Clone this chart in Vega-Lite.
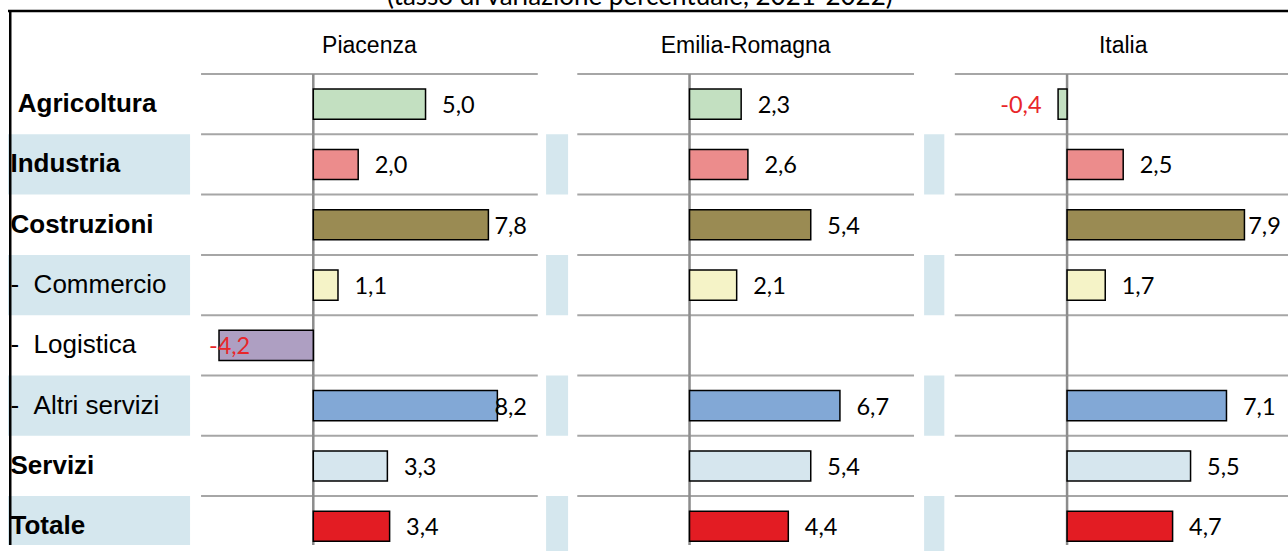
{
  "$schema": "https://vega.github.io/schema/vega-lite/v6.json",
  "width": 1288,
  "height": 551,
  "autosize": {"type": "fit", "contains": "padding"},
  "padding": {"left": 8, "top": 0, "right": 0, "bottom": 0},
  "background": "white",
  "config": {
    "view": {"stroke": null},
    "locale": {"number": {"decimal": ",", "thousands": ".", "grouping": [3], "currency": ["", " €"], "minus": "-"}}
  },
  "datasets": {
    "vals": [
      {"area": "Piacenza", "sector": "Agricoltura", "value": 5.0},
      {"area": "Piacenza", "sector": "Industria", "value": 2.0},
      {"area": "Piacenza", "sector": "Costruzioni", "value": 7.8},
      {"area": "Piacenza", "sector": "Commercio", "value": 1.1},
      {"area": "Piacenza", "sector": "Logistica", "value": -4.2},
      {"area": "Piacenza", "sector": "Altri servizi", "value": 8.2},
      {"area": "Piacenza", "sector": "Servizi", "value": 3.3},
      {"area": "Piacenza", "sector": "Totale", "value": 3.4},
      {"area": "Emilia-Romagna", "sector": "Agricoltura", "value": 2.3},
      {"area": "Emilia-Romagna", "sector": "Industria", "value": 2.6},
      {"area": "Emilia-Romagna", "sector": "Costruzioni", "value": 5.4},
      {"area": "Emilia-Romagna", "sector": "Commercio", "value": 2.1},
      {"area": "Emilia-Romagna", "sector": "Logistica", "value": null},
      {"area": "Emilia-Romagna", "sector": "Altri servizi", "value": 6.7},
      {"area": "Emilia-Romagna", "sector": "Servizi", "value": 5.4},
      {"area": "Emilia-Romagna", "sector": "Totale", "value": 4.4},
      {"area": "Italia", "sector": "Agricoltura", "value": -0.4},
      {"area": "Italia", "sector": "Industria", "value": 2.5},
      {"area": "Italia", "sector": "Costruzioni", "value": 7.9},
      {"area": "Italia", "sector": "Commercio", "value": 1.7},
      {"area": "Italia", "sector": "Logistica", "value": null},
      {"area": "Italia", "sector": "Altri servizi", "value": 7.1},
      {"area": "Italia", "sector": "Servizi", "value": 5.5},
      {"area": "Italia", "sector": "Totale", "value": 4.7}
    ]
  },
  "data": {"name": "vals"},
  "layer": [
    {
      "transform": [{"filter": "datum.area == 'Piacenza'"}],
      "layer": [
        {
          "transform": [{"filter": "indexof(['Industria','Commercio','Altri servizi','Totale'], datum.sector) >= 0"}],
          "mark": {"type": "rect", "fill": "#d5e7ee", "clip": true},
          "encoding": {
            "x": {"datum": -13.6, "type": "quantitative", "scale": {"domain": [-13.6, 43.42], "nice": false, "zero": false}, "axis": null},
            "x2": {"datum": -5.49},
            "y": {"field": "sector", "type": "nominal", "scale": {"domain": ["header","Agricoltura","Industria","Costruzioni","Commercio","Logistica","Altri servizi","Servizi","Totale"], "range": [13.7, 556.4], "paddingInner": 0, "paddingOuter": 0},
              "axis": {"domain": false, "ticks": false, "tickSize": 0, "title": null, "labelAlign": "left", "labelPadding": -2, "labelFont": "Liberation Sans", "labelFontSize": 26, "labelColor": "black", "labelLimit": 400, "labelFontWeight": {"expr": "indexof(['Commercio','Logistica','Altri servizi'], datum.value) >= 0 ? 'normal' : 'bold'"}, "labelExpr": "datum.value == 'header' ? '' : indexof(['Commercio','Logistica','Altri servizi'], datum.value) >= 0 ? '-\u00a0\u00a0' + datum.value : datum.value == 'Agricoltura' ? '\u200b\u00a0' + datum.value : datum.value"}}
          }
        },
        {
          "transform": [{"filter": "indexof(['Industria','Commercio','Altri servizi','Totale'], datum.sector) >= 0"}],
          "mark": {"type": "rect", "fill": "#d5e7ee"},
          "encoding": {
            "x": {"datum": 10.37, "type": "quantitative", "axis": null},
            "x2": {"datum": 11.35},
            "y": {"field": "sector", "type": "nominal", "scale": {"domain": ["header","Agricoltura","Industria","Costruzioni","Commercio","Logistica","Altri servizi","Servizi","Totale"], "range": [13.7, 556.4], "paddingInner": 0, "paddingOuter": 0},
              "axis": {"domain": false, "ticks": false, "tickSize": 0, "title": null, "labelAlign": "left", "labelPadding": -2, "labelFont": "Liberation Sans", "labelFontSize": 26, "labelColor": "black", "labelLimit": 400, "labelFontWeight": {"expr": "indexof(['Commercio','Logistica','Altri servizi'], datum.value) >= 0 ? 'normal' : 'bold'"}, "labelExpr": "datum.value == 'header' ? '' : indexof(['Commercio','Logistica','Altri servizi'], datum.value) >= 0 ? '-\u00a0\u00a0' + datum.value : datum.value == 'Agricoltura' ? '\u200b\u00a0' + datum.value : datum.value"}}
          }
        },
        {
          "mark": {"type": "rule", "stroke": "#a6a6a6", "strokeWidth": 2},
          "encoding": {
            "x": {"datum": -5, "type": "quantitative", "axis": null},
            "x2": {"datum": 10},
            "y": {"field": "sector", "type": "nominal", "bandPosition": 0, "scale": {"domain": ["header","Agricoltura","Industria","Costruzioni","Commercio","Logistica","Altri servizi","Servizi","Totale"], "range": [13.7, 556.4], "paddingInner": 0, "paddingOuter": 0},
              "axis": {"domain": false, "ticks": false, "tickSize": 0, "title": null, "labelAlign": "left", "labelPadding": -2, "labelFont": "Liberation Sans", "labelFontSize": 26, "labelColor": "black", "labelLimit": 400, "labelFontWeight": {"expr": "indexof(['Commercio','Logistica','Altri servizi'], datum.value) >= 0 ? 'normal' : 'bold'"}, "labelExpr": "datum.value == 'header' ? '' : indexof(['Commercio','Logistica','Altri servizi'], datum.value) >= 0 ? '-\u00a0\u00a0' + datum.value : datum.value == 'Agricoltura' ? '\u200b\u00a0' + datum.value : datum.value"}}
          }
        },
        {
          "mark": {"type": "rect", "fillOpacity": 0, "stroke": "#8c8c8c", "strokeWidth": 2.5, "clip": true},
          "encoding": {
            "x": {"datum": 0, "type": "quantitative", "axis": null},
            "x2": {"datum": 0},
            "y": {"field": "sector", "type": "nominal", "scale": {"domain": ["header","Agricoltura","Industria","Costruzioni","Commercio","Logistica","Altri servizi","Servizi","Totale"], "range": [13.7, 556.4], "paddingInner": 0, "paddingOuter": 0},
              "axis": {"domain": false, "ticks": false, "tickSize": 0, "title": null, "labelAlign": "left", "labelPadding": -2, "labelFont": "Liberation Sans", "labelFontSize": 26, "labelColor": "black", "labelLimit": 400, "labelFontWeight": {"expr": "indexof(['Commercio','Logistica','Altri servizi'], datum.value) >= 0 ? 'normal' : 'bold'"}, "labelExpr": "datum.value == 'header' ? '' : indexof(['Commercio','Logistica','Altri servizi'], datum.value) >= 0 ? '-\u00a0\u00a0' + datum.value : datum.value == 'Agricoltura' ? '\u200b\u00a0' + datum.value : datum.value"}}
          }
        },
        {
          "mark": {"type": "bar", "stroke": "black", "strokeWidth": 1.5, "height": {"band": 0.5}},
          "encoding": {
            "x": {"field": "value", "type": "quantitative", "axis": null},
            "y": {"field": "sector", "type": "nominal", "scale": {"domain": ["header","Agricoltura","Industria","Costruzioni","Commercio","Logistica","Altri servizi","Servizi","Totale"], "range": [13.7, 556.4], "paddingInner": 0, "paddingOuter": 0},
              "axis": {"domain": false, "ticks": false, "tickSize": 0, "title": null, "labelAlign": "left", "labelPadding": -2, "labelFont": "Liberation Sans", "labelFontSize": 26, "labelColor": "black", "labelLimit": 400, "labelFontWeight": {"expr": "indexof(['Commercio','Logistica','Altri servizi'], datum.value) >= 0 ? 'normal' : 'bold'"}, "labelExpr": "datum.value == 'header' ? '' : indexof(['Commercio','Logistica','Altri servizi'], datum.value) >= 0 ? '-\u00a0\u00a0' + datum.value : datum.value == 'Agricoltura' ? '\u200b\u00a0' + datum.value : datum.value"}},
            "color": {"field": "sector", "type": "nominal", "legend": null, "scale": {"domain": ["Agricoltura","Industria","Costruzioni","Commercio","Logistica","Altri servizi","Servizi","Totale"], "range": ["#c3e0c1","#ec8c8c","#9a8b53","#f5f3c7","#ae9fc2","#82a8d6","#d6e6ee","#e31c23"]}}
          }
        },
        {
          "mark": {"type": "text", "font": "Lato", "fontSize": 23.5, "baseline": "alphabetic", "dy": 9,
            "align": {"expr": "datum.value < -2.15 ? 'left' : datum.value < 0 ? 'right' : datum.value > 7.4 ? 'right' : 'left'"},
            "dx": {"expr": "datum.value < -2.15 ? (-4.65 - datum.value) * 22.45 : datum.value < 0 ? -16.5 : datum.value > 7.4 ? (9.52 - datum.value) * 22.45 : 16.5"}},
          "encoding": {
            "x": {"field": "value", "type": "quantitative", "axis": null},
            "y": {"field": "sector", "type": "nominal", "scale": {"domain": ["header","Agricoltura","Industria","Costruzioni","Commercio","Logistica","Altri servizi","Servizi","Totale"], "range": [13.7, 556.4], "paddingInner": 0, "paddingOuter": 0},
              "axis": {"domain": false, "ticks": false, "tickSize": 0, "title": null, "labelAlign": "left", "labelPadding": -2, "labelFont": "Liberation Sans", "labelFontSize": 26, "labelColor": "black", "labelLimit": 400, "labelFontWeight": {"expr": "indexof(['Commercio','Logistica','Altri servizi'], datum.value) >= 0 ? 'normal' : 'bold'"}, "labelExpr": "datum.value == 'header' ? '' : indexof(['Commercio','Logistica','Altri servizi'], datum.value) >= 0 ? '-\u00a0\u00a0' + datum.value : datum.value == 'Agricoltura' ? '\u200b\u00a0' + datum.value : datum.value"}},
            "text": {"field": "value", "type": "quantitative", "format": ".1f"},
            "color": {"condition": {"test": "datum.value < 0", "value": "#e8262a"}, "value": "black"}
          }
        },
        {
          "data": {"values": [{"area": "Piacenza"}]},
          "mark": {"type": "text", "font": "Liberation Sans", "fontSize": 23, "baseline": "alphabetic", "dy": 9, "align": "center", "color": "black"},
          "encoding": {
            "x": {"datum": 2.5, "type": "quantitative", "axis": null},
            "y": {"datum": "header", "type": "nominal", "scale": {"domain": ["header","Agricoltura","Industria","Costruzioni","Commercio","Logistica","Altri servizi","Servizi","Totale"], "range": [13.7, 556.4], "paddingInner": 0, "paddingOuter": 0},
              "axis": {"domain": false, "ticks": false, "tickSize": 0, "title": null, "labelAlign": "left", "labelPadding": -2, "labelFont": "Liberation Sans", "labelFontSize": 26, "labelColor": "black", "labelLimit": 400, "labelFontWeight": {"expr": "indexof(['Commercio','Logistica','Altri servizi'], datum.value) >= 0 ? 'normal' : 'bold'"}, "labelExpr": "datum.value == 'header' ? '' : indexof(['Commercio','Logistica','Altri servizi'], datum.value) >= 0 ? '-\u00a0\u00a0' + datum.value : datum.value == 'Agricoltura' ? '\u200b\u00a0' + datum.value : datum.value"}},
            "text": {"field": "area", "type": "nominal"}
          }
        },
        {
          "data": {"values": [{"t": "(tasso di variazione percentuale, 2021-2022)"}]},
          "mark": {"type": "text", "font": "Lato", "fontSize": 26, "baseline": "alphabetic", "dy": -38.5, "align": "center", "color": "black", "clip": true},
          "encoding": {
            "x": {"datum": 14.55, "type": "quantitative", "axis": null},
            "y": {"datum": "header", "type": "nominal", "scale": {"domain": ["header","Agricoltura","Industria","Costruzioni","Commercio","Logistica","Altri servizi","Servizi","Totale"], "range": [13.7, 556.4], "paddingInner": 0, "paddingOuter": 0},
              "axis": {"domain": false, "ticks": false, "tickSize": 0, "title": null, "labelAlign": "left", "labelPadding": -2, "labelFont": "Liberation Sans", "labelFontSize": 26, "labelColor": "black", "labelLimit": 400, "labelFontWeight": {"expr": "indexof(['Commercio','Logistica','Altri servizi'], datum.value) >= 0 ? 'normal' : 'bold'"}, "labelExpr": "datum.value == 'header' ? '' : indexof(['Commercio','Logistica','Altri servizi'], datum.value) >= 0 ? '-\u00a0\u00a0' + datum.value : datum.value == 'Agricoltura' ? '\u200b\u00a0' + datum.value : datum.value"}},
            "text": {"field": "t", "type": "nominal"}
          }
        },
        {
          "data": {"values": [{"edge": "top"}]},
          "mark": {"type": "rule", "stroke": "black", "strokeWidth": 2.5, "yOffset": -2.7, "clip": true},
          "encoding": {
            "x": {"datum": -13.6, "type": "quantitative", "axis": null},
            "x2": {"datum": 43.42},
            "y": {"datum": "header", "type": "nominal", "bandPosition": 0, "scale": {"domain": ["header","Agricoltura","Industria","Costruzioni","Commercio","Logistica","Altri servizi","Servizi","Totale"], "range": [13.7, 556.4], "paddingInner": 0, "paddingOuter": 0},
              "axis": {"domain": false, "ticks": false, "tickSize": 0, "title": null, "labelAlign": "left", "labelPadding": -2, "labelFont": "Liberation Sans", "labelFontSize": 26, "labelColor": "black", "labelLimit": 400, "labelFontWeight": {"expr": "indexof(['Commercio','Logistica','Altri servizi'], datum.value) >= 0 ? 'normal' : 'bold'"}, "labelExpr": "datum.value == 'header' ? '' : indexof(['Commercio','Logistica','Altri servizi'], datum.value) >= 0 ? '-\u00a0\u00a0' + datum.value : datum.value == 'Agricoltura' ? '\u200b\u00a0' + datum.value : datum.value"}}
          }
        },
        {
          "data": {"values": [{"edge": "left"}]},
          "mark": {"type": "rule", "stroke": "black", "strokeWidth": 2.5, "yOffset": -2.7, "clip": true},
          "encoding": {
            "x": {"datum": -13.5, "type": "quantitative", "axis": null},
            "y": {"datum": "header", "type": "nominal", "bandPosition": 0, "scale": {"domain": ["header","Agricoltura","Industria","Costruzioni","Commercio","Logistica","Altri servizi","Servizi","Totale"], "range": [13.7, 556.4], "paddingInner": 0, "paddingOuter": 0},
              "axis": {"domain": false, "ticks": false, "tickSize": 0, "title": null, "labelAlign": "left", "labelPadding": -2, "labelFont": "Liberation Sans", "labelFontSize": 26, "labelColor": "black", "labelLimit": 400, "labelFontWeight": {"expr": "indexof(['Commercio','Logistica','Altri servizi'], datum.value) >= 0 ? 'normal' : 'bold'"}, "labelExpr": "datum.value == 'header' ? '' : indexof(['Commercio','Logistica','Altri servizi'], datum.value) >= 0 ? '-\u00a0\u00a0' + datum.value : datum.value == 'Agricoltura' ? '\u200b\u00a0' + datum.value : datum.value"}},
            "y2": {"datum": "Totale", "bandPosition": 1}
          }
        }
      ]
    },
    {
      "transform": [{"filter": "datum.area == 'Emilia-Romagna'"}],
      "layer": [
        {
          "transform": [{"filter": "indexof(['Industria','Commercio','Altri servizi','Totale'], datum.sector) >= 0"}],
          "mark": {"type": "rect", "fill": "#d5e7ee"},
          "encoding": {
            "x": {"datum": 10.45, "type": "quantitative", "scale": {"domain": [-30.36, 26.66], "nice": false, "zero": false}, "axis": null},
            "x2": {"datum": 11.35},
            "y": {"field": "sector", "type": "nominal", "scale": {"domain": ["header","Agricoltura","Industria","Costruzioni","Commercio","Logistica","Altri servizi","Servizi","Totale"], "range": [13.7, 556.4], "paddingInner": 0, "paddingOuter": 0},
              "axis": {"domain": false, "ticks": false, "tickSize": 0, "title": null, "labelAlign": "left", "labelPadding": -2, "labelFont": "Liberation Sans", "labelFontSize": 26, "labelColor": "black", "labelLimit": 400, "labelFontWeight": {"expr": "indexof(['Commercio','Logistica','Altri servizi'], datum.value) >= 0 ? 'normal' : 'bold'"}, "labelExpr": "datum.value == 'header' ? '' : indexof(['Commercio','Logistica','Altri servizi'], datum.value) >= 0 ? '-\u00a0\u00a0' + datum.value : datum.value == 'Agricoltura' ? '\u200b\u00a0' + datum.value : datum.value"}}
          }
        },
        {
          "mark": {"type": "rule", "stroke": "#a6a6a6", "strokeWidth": 2},
          "encoding": {
            "x": {"datum": -5, "type": "quantitative", "axis": null},
            "x2": {"datum": 10},
            "y": {"field": "sector", "type": "nominal", "bandPosition": 0, "scale": {"domain": ["header","Agricoltura","Industria","Costruzioni","Commercio","Logistica","Altri servizi","Servizi","Totale"], "range": [13.7, 556.4], "paddingInner": 0, "paddingOuter": 0},
              "axis": {"domain": false, "ticks": false, "tickSize": 0, "title": null, "labelAlign": "left", "labelPadding": -2, "labelFont": "Liberation Sans", "labelFontSize": 26, "labelColor": "black", "labelLimit": 400, "labelFontWeight": {"expr": "indexof(['Commercio','Logistica','Altri servizi'], datum.value) >= 0 ? 'normal' : 'bold'"}, "labelExpr": "datum.value == 'header' ? '' : indexof(['Commercio','Logistica','Altri servizi'], datum.value) >= 0 ? '-\u00a0\u00a0' + datum.value : datum.value == 'Agricoltura' ? '\u200b\u00a0' + datum.value : datum.value"}}
          }
        },
        {
          "mark": {"type": "rect", "fillOpacity": 0, "stroke": "#8c8c8c", "strokeWidth": 2.5, "clip": true},
          "encoding": {
            "x": {"datum": 0, "type": "quantitative", "axis": null},
            "x2": {"datum": 0},
            "y": {"field": "sector", "type": "nominal", "scale": {"domain": ["header","Agricoltura","Industria","Costruzioni","Commercio","Logistica","Altri servizi","Servizi","Totale"], "range": [13.7, 556.4], "paddingInner": 0, "paddingOuter": 0},
              "axis": {"domain": false, "ticks": false, "tickSize": 0, "title": null, "labelAlign": "left", "labelPadding": -2, "labelFont": "Liberation Sans", "labelFontSize": 26, "labelColor": "black", "labelLimit": 400, "labelFontWeight": {"expr": "indexof(['Commercio','Logistica','Altri servizi'], datum.value) >= 0 ? 'normal' : 'bold'"}, "labelExpr": "datum.value == 'header' ? '' : indexof(['Commercio','Logistica','Altri servizi'], datum.value) >= 0 ? '-\u00a0\u00a0' + datum.value : datum.value == 'Agricoltura' ? '\u200b\u00a0' + datum.value : datum.value"}}
          }
        },
        {
          "mark": {"type": "bar", "stroke": "black", "strokeWidth": 1.5, "height": {"band": 0.5}},
          "encoding": {
            "x": {"field": "value", "type": "quantitative", "axis": null},
            "y": {"field": "sector", "type": "nominal", "scale": {"domain": ["header","Agricoltura","Industria","Costruzioni","Commercio","Logistica","Altri servizi","Servizi","Totale"], "range": [13.7, 556.4], "paddingInner": 0, "paddingOuter": 0},
              "axis": {"domain": false, "ticks": false, "tickSize": 0, "title": null, "labelAlign": "left", "labelPadding": -2, "labelFont": "Liberation Sans", "labelFontSize": 26, "labelColor": "black", "labelLimit": 400, "labelFontWeight": {"expr": "indexof(['Commercio','Logistica','Altri servizi'], datum.value) >= 0 ? 'normal' : 'bold'"}, "labelExpr": "datum.value == 'header' ? '' : indexof(['Commercio','Logistica','Altri servizi'], datum.value) >= 0 ? '-\u00a0\u00a0' + datum.value : datum.value == 'Agricoltura' ? '\u200b\u00a0' + datum.value : datum.value"}},
            "color": {"field": "sector", "type": "nominal", "legend": null, "scale": {"domain": ["Agricoltura","Industria","Costruzioni","Commercio","Logistica","Altri servizi","Servizi","Totale"], "range": ["#c3e0c1","#ec8c8c","#9a8b53","#f5f3c7","#ae9fc2","#82a8d6","#d6e6ee","#e31c23"]}}
          }
        },
        {
          "mark": {"type": "text", "font": "Lato", "fontSize": 23.5, "baseline": "alphabetic", "dy": 9,
            "align": {"expr": "datum.value < -2.15 ? 'left' : datum.value < 0 ? 'right' : datum.value > 7.4 ? 'right' : 'left'"},
            "dx": {"expr": "datum.value < -2.15 ? (-4.65 - datum.value) * 22.45 : datum.value < 0 ? -16.5 : datum.value > 7.4 ? (9.52 - datum.value) * 22.45 : 16.5"}},
          "encoding": {
            "x": {"field": "value", "type": "quantitative", "axis": null},
            "y": {"field": "sector", "type": "nominal", "scale": {"domain": ["header","Agricoltura","Industria","Costruzioni","Commercio","Logistica","Altri servizi","Servizi","Totale"], "range": [13.7, 556.4], "paddingInner": 0, "paddingOuter": 0},
              "axis": {"domain": false, "ticks": false, "tickSize": 0, "title": null, "labelAlign": "left", "labelPadding": -2, "labelFont": "Liberation Sans", "labelFontSize": 26, "labelColor": "black", "labelLimit": 400, "labelFontWeight": {"expr": "indexof(['Commercio','Logistica','Altri servizi'], datum.value) >= 0 ? 'normal' : 'bold'"}, "labelExpr": "datum.value == 'header' ? '' : indexof(['Commercio','Logistica','Altri servizi'], datum.value) >= 0 ? '-\u00a0\u00a0' + datum.value : datum.value == 'Agricoltura' ? '\u200b\u00a0' + datum.value : datum.value"}},
            "text": {"field": "value", "type": "quantitative", "format": ".1f"},
            "color": {"condition": {"test": "datum.value < 0", "value": "#e8262a"}, "value": "black"}
          }
        },
        {
          "data": {"values": [{"area": "Emilia-Romagna"}]},
          "mark": {"type": "text", "font": "Liberation Sans", "fontSize": 23, "baseline": "alphabetic", "dy": 9, "align": "center", "color": "black"},
          "encoding": {
            "x": {"datum": 2.5, "type": "quantitative", "axis": null},
            "y": {"datum": "header", "type": "nominal", "scale": {"domain": ["header","Agricoltura","Industria","Costruzioni","Commercio","Logistica","Altri servizi","Servizi","Totale"], "range": [13.7, 556.4], "paddingInner": 0, "paddingOuter": 0},
              "axis": {"domain": false, "ticks": false, "tickSize": 0, "title": null, "labelAlign": "left", "labelPadding": -2, "labelFont": "Liberation Sans", "labelFontSize": 26, "labelColor": "black", "labelLimit": 400, "labelFontWeight": {"expr": "indexof(['Commercio','Logistica','Altri servizi'], datum.value) >= 0 ? 'normal' : 'bold'"}, "labelExpr": "datum.value == 'header' ? '' : indexof(['Commercio','Logistica','Altri servizi'], datum.value) >= 0 ? '-\u00a0\u00a0' + datum.value : datum.value == 'Agricoltura' ? '\u200b\u00a0' + datum.value : datum.value"}},
            "text": {"field": "area", "type": "nominal"}
          }
        }
      ]
    },
    {
      "transform": [{"filter": "datum.area == 'Italia'"}],
      "layer": [
        {
          "mark": {"type": "rule", "stroke": "#a6a6a6", "strokeWidth": 2, "clip": true},
          "encoding": {
            "x": {"datum": -5, "type": "quantitative", "scale": {"domain": [-47.17, 9.84], "nice": false, "zero": false}, "axis": null},
            "x2": {"datum": 10},
            "y": {"field": "sector", "type": "nominal", "bandPosition": 0, "scale": {"domain": ["header","Agricoltura","Industria","Costruzioni","Commercio","Logistica","Altri servizi","Servizi","Totale"], "range": [13.7, 556.4], "paddingInner": 0, "paddingOuter": 0},
              "axis": {"domain": false, "ticks": false, "tickSize": 0, "title": null, "labelAlign": "left", "labelPadding": -2, "labelFont": "Liberation Sans", "labelFontSize": 26, "labelColor": "black", "labelLimit": 400, "labelFontWeight": {"expr": "indexof(['Commercio','Logistica','Altri servizi'], datum.value) >= 0 ? 'normal' : 'bold'"}, "labelExpr": "datum.value == 'header' ? '' : indexof(['Commercio','Logistica','Altri servizi'], datum.value) >= 0 ? '-\u00a0\u00a0' + datum.value : datum.value == 'Agricoltura' ? '\u200b\u00a0' + datum.value : datum.value"}}
          }
        },
        {
          "mark": {"type": "rect", "fillOpacity": 0, "stroke": "#8c8c8c", "strokeWidth": 2.5, "clip": true},
          "encoding": {
            "x": {"datum": 0, "type": "quantitative", "axis": null},
            "x2": {"datum": 0},
            "y": {"field": "sector", "type": "nominal", "scale": {"domain": ["header","Agricoltura","Industria","Costruzioni","Commercio","Logistica","Altri servizi","Servizi","Totale"], "range": [13.7, 556.4], "paddingInner": 0, "paddingOuter": 0},
              "axis": {"domain": false, "ticks": false, "tickSize": 0, "title": null, "labelAlign": "left", "labelPadding": -2, "labelFont": "Liberation Sans", "labelFontSize": 26, "labelColor": "black", "labelLimit": 400, "labelFontWeight": {"expr": "indexof(['Commercio','Logistica','Altri servizi'], datum.value) >= 0 ? 'normal' : 'bold'"}, "labelExpr": "datum.value == 'header' ? '' : indexof(['Commercio','Logistica','Altri servizi'], datum.value) >= 0 ? '-\u00a0\u00a0' + datum.value : datum.value == 'Agricoltura' ? '\u200b\u00a0' + datum.value : datum.value"}}
          }
        },
        {
          "mark": {"type": "bar", "stroke": "black", "strokeWidth": 1.5, "height": {"band": 0.5}},
          "encoding": {
            "x": {"field": "value", "type": "quantitative", "axis": null},
            "y": {"field": "sector", "type": "nominal", "scale": {"domain": ["header","Agricoltura","Industria","Costruzioni","Commercio","Logistica","Altri servizi","Servizi","Totale"], "range": [13.7, 556.4], "paddingInner": 0, "paddingOuter": 0},
              "axis": {"domain": false, "ticks": false, "tickSize": 0, "title": null, "labelAlign": "left", "labelPadding": -2, "labelFont": "Liberation Sans", "labelFontSize": 26, "labelColor": "black", "labelLimit": 400, "labelFontWeight": {"expr": "indexof(['Commercio','Logistica','Altri servizi'], datum.value) >= 0 ? 'normal' : 'bold'"}, "labelExpr": "datum.value == 'header' ? '' : indexof(['Commercio','Logistica','Altri servizi'], datum.value) >= 0 ? '-\u00a0\u00a0' + datum.value : datum.value == 'Agricoltura' ? '\u200b\u00a0' + datum.value : datum.value"}},
            "color": {"field": "sector", "type": "nominal", "legend": null, "scale": {"domain": ["Agricoltura","Industria","Costruzioni","Commercio","Logistica","Altri servizi","Servizi","Totale"], "range": ["#c3e0c1","#ec8c8c","#9a8b53","#f5f3c7","#ae9fc2","#82a8d6","#d6e6ee","#e31c23"]}}
          }
        },
        {
          "mark": {"type": "text", "font": "Lato", "fontSize": 23.5, "baseline": "alphabetic", "dy": 9,
            "align": {"expr": "datum.value < -2.15 ? 'left' : datum.value < 0 ? 'right' : datum.value > 7.4 ? 'right' : 'left'"},
            "dx": {"expr": "datum.value < -2.15 ? (-4.65 - datum.value) * 22.45 : datum.value < 0 ? -16.5 : datum.value > 7.4 ? (9.52 - datum.value) * 22.45 : 16.5"}},
          "encoding": {
            "x": {"field": "value", "type": "quantitative", "axis": null},
            "y": {"field": "sector", "type": "nominal", "scale": {"domain": ["header","Agricoltura","Industria","Costruzioni","Commercio","Logistica","Altri servizi","Servizi","Totale"], "range": [13.7, 556.4], "paddingInner": 0, "paddingOuter": 0},
              "axis": {"domain": false, "ticks": false, "tickSize": 0, "title": null, "labelAlign": "left", "labelPadding": -2, "labelFont": "Liberation Sans", "labelFontSize": 26, "labelColor": "black", "labelLimit": 400, "labelFontWeight": {"expr": "indexof(['Commercio','Logistica','Altri servizi'], datum.value) >= 0 ? 'normal' : 'bold'"}, "labelExpr": "datum.value == 'header' ? '' : indexof(['Commercio','Logistica','Altri servizi'], datum.value) >= 0 ? '-\u00a0\u00a0' + datum.value : datum.value == 'Agricoltura' ? '\u200b\u00a0' + datum.value : datum.value"}},
            "text": {"field": "value", "type": "quantitative", "format": ".1f"},
            "color": {"condition": {"test": "datum.value < 0", "value": "#e8262a"}, "value": "black"}
          }
        },
        {
          "data": {"values": [{"area": "Italia"}]},
          "mark": {"type": "text", "font": "Liberation Sans", "fontSize": 23, "baseline": "alphabetic", "dy": 9, "align": "center", "color": "black"},
          "encoding": {
            "x": {"datum": 2.5, "type": "quantitative", "axis": null},
            "y": {"datum": "header", "type": "nominal", "scale": {"domain": ["header","Agricoltura","Industria","Costruzioni","Commercio","Logistica","Altri servizi","Servizi","Totale"], "range": [13.7, 556.4], "paddingInner": 0, "paddingOuter": 0},
              "axis": {"domain": false, "ticks": false, "tickSize": 0, "title": null, "labelAlign": "left", "labelPadding": -2, "labelFont": "Liberation Sans", "labelFontSize": 26, "labelColor": "black", "labelLimit": 400, "labelFontWeight": {"expr": "indexof(['Commercio','Logistica','Altri servizi'], datum.value) >= 0 ? 'normal' : 'bold'"}, "labelExpr": "datum.value == 'header' ? '' : indexof(['Commercio','Logistica','Altri servizi'], datum.value) >= 0 ? '-\u00a0\u00a0' + datum.value : datum.value == 'Agricoltura' ? '\u200b\u00a0' + datum.value : datum.value"}},
            "text": {"field": "area", "type": "nominal"}
          }
        }
      ]
    }
  ],
  "resolve": {"scale": {"x": "independent"}}
}
